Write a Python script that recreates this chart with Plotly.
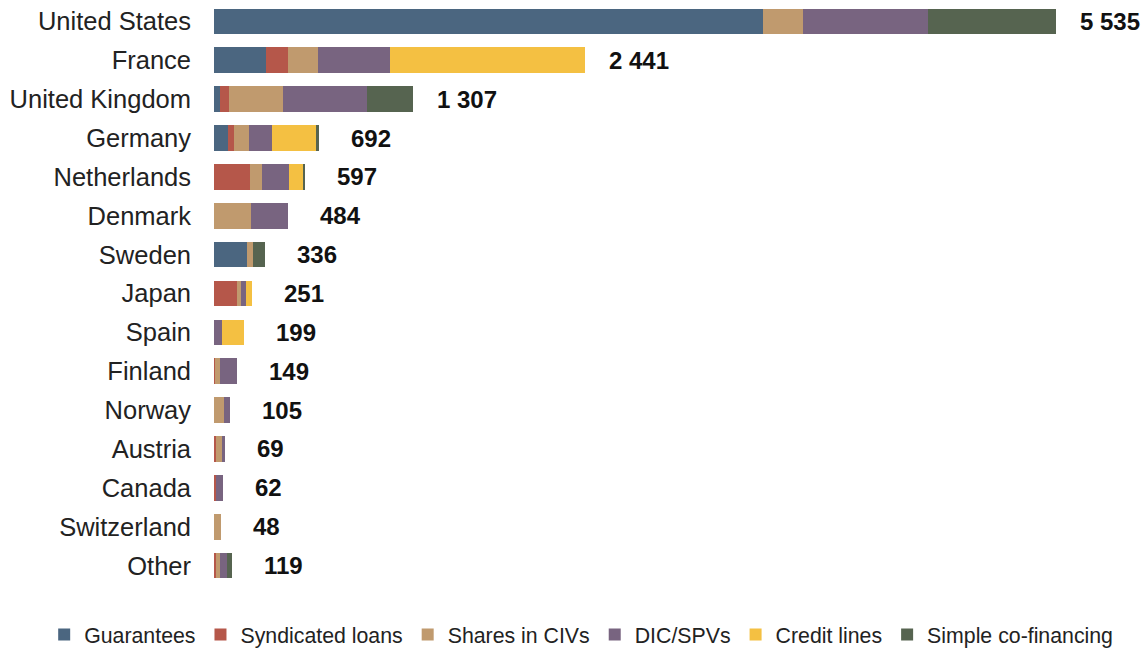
import plotly.graph_objects as go

categories = ["United States", "France", "United Kingdom", "Germany", "Netherlands",
              "Denmark", "Sweden", "Japan", "Spain", "Finland", "Norway", "Austria",
              "Canada", "Switzerland", "Other"]

guarantees = [3612, 342, 39, 90, 0, 0, 219, 0, 0, 0, 0, 0, 0, 0, 0]
syndicated_loans = [0, 142, 59, 44, 237, 0, 0, 153, 0, 6, 0, 13, 13, 0, 10]
shares_in_civs = [260, 202, 357, 99, 79, 243, 37, 22, 0, 34, 63, 42, 0, 48, 28]
dic_spvs = [825, 471, 552, 147, 178, 241, 0, 33, 55, 109, 42, 14, 49, 0, 45]
credit_lines = [0, 1284, 0, 288, 96, 0, 0, 43, 144, 0, 0, 0, 0, 0, 0]
simple_cofinancing = [838, 0, 300, 24, 7, 0, 80, 0, 0, 0, 0, 0, 0, 0, 36]

totals = [5535, 2441, 1307, 692, 597, 484, 336, 251, 199, 149, 105, 69, 62, 48, 119]

series = [
    ("Guarantees", guarantees, "#4b6680"),
    ("Syndicated loans", syndicated_loans, "#b5574a"),
    ("Shares in CIVs", shares_in_civs, "#c09a6e"),
    ("DIC/SPVs", dic_spvs, "#786480"),
    ("Credit lines", credit_lines, "#f4c042"),
    ("Simple co-financing", simple_cofinancing, "#566450"),
]

FONT = "Liberation Sans, Arial, sans-serif"

fig = go.Figure()
for name, vals, col in series:
    fig.add_trace(go.Bar(
        y=categories, x=vals, name=name, orientation="h",
        marker=dict(color=col, line=dict(width=0)),
        hoverinfo="x+name",
    ))

for cat, tot in zip(categories, totals):
    fig.add_annotation(
        x=tot, y=cat, xref="x", yref="y",
        text="<b>" + f"{tot:,}".replace(",", " ") + "</b>",
        showarrow=False, xanchor="left", yanchor="middle",
        xshift=22 if tot >= 1000 else 30,
        font=dict(family=FONT, size=24, color="#111111"),
    )

fig.update_layout(
    barmode="stack",
    bargap=0.34,
    width=1145, height=648,
    margin=dict(l=214, r=18, t=2, b=63, autoexpand=False),
    paper_bgcolor="white", plot_bgcolor="white",
    font=dict(family=FONT, color="#222222"),
    xaxis=dict(range=[0, 6002], visible=False, showgrid=False, zeroline=False),
    yaxis=dict(autorange="reversed", showgrid=False, zeroline=False, showline=False,
               ticks="", ticklabelstandoff=22,
               tickfont=dict(family=FONT, size=25.5, color="#222222")),
    legend=dict(orientation="h", x=-0.186, xanchor="left", y=-0.085, yanchor="middle",
                font=dict(family=FONT, size=21.3, color="#222222"),
                traceorder="normal", itemwidth=30, tracegroupgap=0,
                bgcolor="rgba(0,0,0,0)"),
    showlegend=True,
)

fig.write_html("out.html",
               config={"displayModeBar": False},
               post_script="document.body.style.margin='0';document.body.style.padding='0';")
